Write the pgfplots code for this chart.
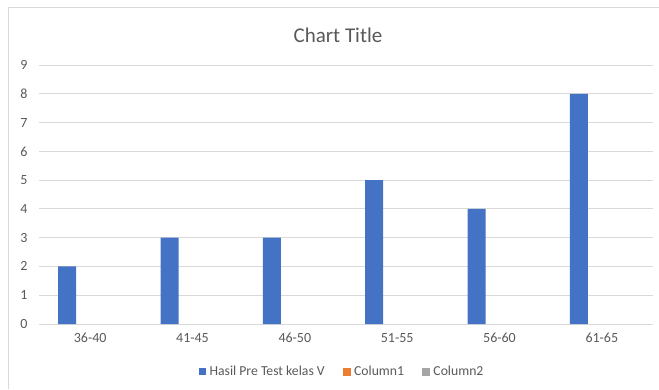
\documentclass[border=0pt]{standalone}
\usepackage{fontspec}
\setmainfont{Carlito}
\usepackage{pgfplots}
\pgfplotsset{compat=1.18}
\definecolor{txt}{RGB}{89,89,89}
\definecolor{grd}{RGB}{217,217,217}
\definecolor{bord}{RGB}{217,217,217}
\definecolor{blu}{HTML}{4472C4}
\definecolor{org}{HTML}{ED7D31}
\definecolor{gry}{HTML}{A5A5A5}
\begin{document}
\begin{tikzpicture}[x=1pt,y=1pt]
\path[use as bounding box] (0,0) rectangle (659,389);
\draw[bord, line width=1pt] (8,0) -- (8,381) -- (659,381);
\node[font=\fontsize{21}{25}\selectfont, text=txt] at (338,354) {Chart Title};
\begin{axis}[
  at={(39pt,65pt)}, anchor=south west, scale only axis,
  width=614pt, height=259pt,
  xmin=-0.5, xmax=5.5, ymin=0, ymax=9,
  ytick={0,1,...,9}, xtick={0,1,2,3,4,5},
  xticklabels={36-40,41-45,46-50,51-55,56-60,61-65},
  axis line style={draw=none}, major tick length=0pt,
  ymajorgrids, grid style={grd, line width=0.9pt},
  tick label style={font=\fontsize{14}{16}\selectfont, text=txt},
  yticklabel style={xshift=-8pt},
  xticklabel style={yshift=-6pt},
  /pgf/number format/assume math mode=true,
  legend columns=3,
  legend style={at={(0.4935,-0.185)}, anchor=center, draw=none, fill=none,
    font=\fontsize{13.7}{16}\selectfont, text=txt,
    /tikz/every odd column/.append style={column sep=2pt},
    /tikz/every even column/.append style={column sep=16pt}},
  legend cell align=left,
]
\addplot[ybar, fill=blu, draw=none, bar width=18pt, bar shift=-23pt,
  legend image code/.code={\fill[blu] (0pt,-3.5pt) rectangle (7pt,3.5pt);}]
  coordinates {(0,2) (1,3) (2,3) (3,5) (4,4) (5,8)};
\addlegendentry{Hasil Pre Test kelas V}
\addlegendimage{legend image code/.code={\fill[org] (0pt,-3.5pt) rectangle (7pt,3.5pt);}}
\addlegendentry{Column1}
\addlegendimage{legend image code/.code={\fill[gry] (0pt,-3.5pt) rectangle (7pt,3.5pt);}}
\addlegendentry{Column2}
\end{axis}
\end{tikzpicture}
\end{document}
